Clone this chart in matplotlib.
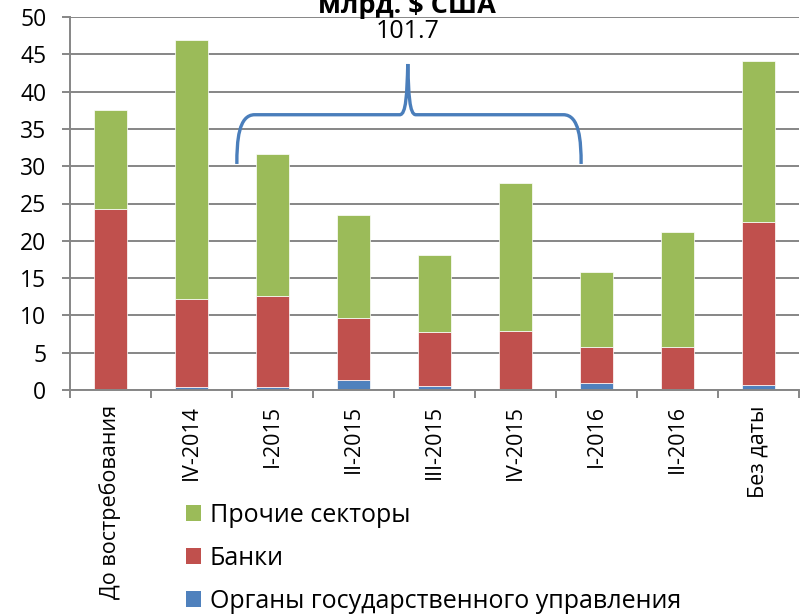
import matplotlib
matplotlib.use("Agg")
import matplotlib.pyplot as plt
from matplotlib.path import Path
from matplotlib.patches import PathPatch, Patch

plt.rcParams['font.family'] = ['Open Sans', 'DejaVu Sans']

categories = ["До востребования", "IV-2014", "I-2015", "II-2015", "III-2015",
              "IV-2015", "I-2016", "II-2016", "Без даты"]
gov = [0.1, 0.45, 0.45, 1.35, 0.5, 0.2, 0.9, 0.2, 0.7]
banks = [24.1, 11.75, 12.15, 8.35, 7.3, 7.75, 4.9, 5.6, 21.8]
other = [13.3, 34.7, 19.1, 13.7, 10.3, 19.85, 10.0, 15.35, 21.6]
series_names = ["Органы государственного управления", "Банки", "Прочие секторы"]
colors = ["#4F81BD", "#C0504D", "#9BBB59"]
title = "млрд. $ США"
brace_label = "101.7"
yticks = [0, 5, 10, 15, 20, 25, 30, 35, 40, 45, 50]

fig = plt.figure(figsize=(8, 6.16), dpi=100)
ax = fig.add_axes([70/800, 1-390/616, 729/800, (390-17)/616])

x = list(range(len(categories)))
grid_c = "#868686"
ax.set_axisbelow(True)
ax.yaxis.grid(True, color=grid_c, linewidth=1.4)

bottom = [0]*len(x)
for vals, c in zip([gov, banks, other], colors):
    ax.bar(x, vals, width=0.4, bottom=bottom, color=c, edgecolor="white", linewidth=0.5)
    bottom = [b+v for b, v in zip(bottom, vals)]

ax.set_xlim(-0.5, len(categories)-0.5)
ax.set_ylim(0, 50)
ax.set_yticks(yticks)
ax.tick_params(axis='y', labelsize=16.5, length=6, width=1.4, color=grid_c, pad=11)
ax.set_xticks(x)
ax.set_xticklabels(categories, rotation=90, fontsize=15.5, va='top', ha='center')
ax.tick_params(axis='x', which='major', length=0, pad=11)
ax.set_xticks([i-0.5 for i in range(len(categories)+1)], minor=True)
ax.tick_params(axis='x', which='minor', length=6, width=1.4, color=grid_c)

for s in ["top", "right"]:
    ax.spines[s].set_visible(False)
for s in ["left", "bottom"]:
    ax.spines[s].set_color(grid_c)
    ax.spines[s].set_linewidth(1.4)

# brace annotation
xl, xr, xm = 1.56, 5.81, 3.67
yb, yh, yp = 30.3, 36.9, 43.7
verts = [
    (xl, yb), (xl, yh-3.5), (xl+0.02, yh), (xl+0.22, yh),
    (xm-0.1, yh),
    (xm-0.02, yh), (xm-0.01, yp-4), (xm, yp),
    (xm+0.01, yp-4), (xm+0.02, yh), (xm+0.1, yh),
    (xr-0.22, yh),
    (xr-0.02, yh), (xr, yh-3.5), (xr, yb),
]
codes = [Path.MOVETO, Path.CURVE4, Path.CURVE4, Path.CURVE4,
         Path.LINETO,
         Path.CURVE4, Path.CURVE4, Path.CURVE4,
         Path.CURVE4, Path.CURVE4, Path.CURVE4,
         Path.LINETO,
         Path.CURVE4, Path.CURVE4, Path.CURVE4]
ax.add_patch(PathPatch(Path(verts, codes), facecolor='none', edgecolor="#4A7EBB",
                       linewidth=2.4, capstyle='butt', clip_on=False))
ax.text(xm, 48.0, brace_label, ha='center', va='center', fontsize=18)

fig.text(407/800, 1-13/616, title, ha='center', va='baseline', fontsize=19.5, fontweight='bold')

handles = [Patch(facecolor=c, edgecolor='none') for c in colors[::-1]]
fig.legend(handles, series_names[::-1], loc='upper left', bbox_to_anchor=(186/800, 1-503/616),
           frameon=False, fontsize=18, handlelength=0.6, handleheight=0.6,
           handletextpad=0.35, labelspacing=0.72, borderaxespad=0, borderpad=0)

fig.savefig("out.png", dpi=100)
